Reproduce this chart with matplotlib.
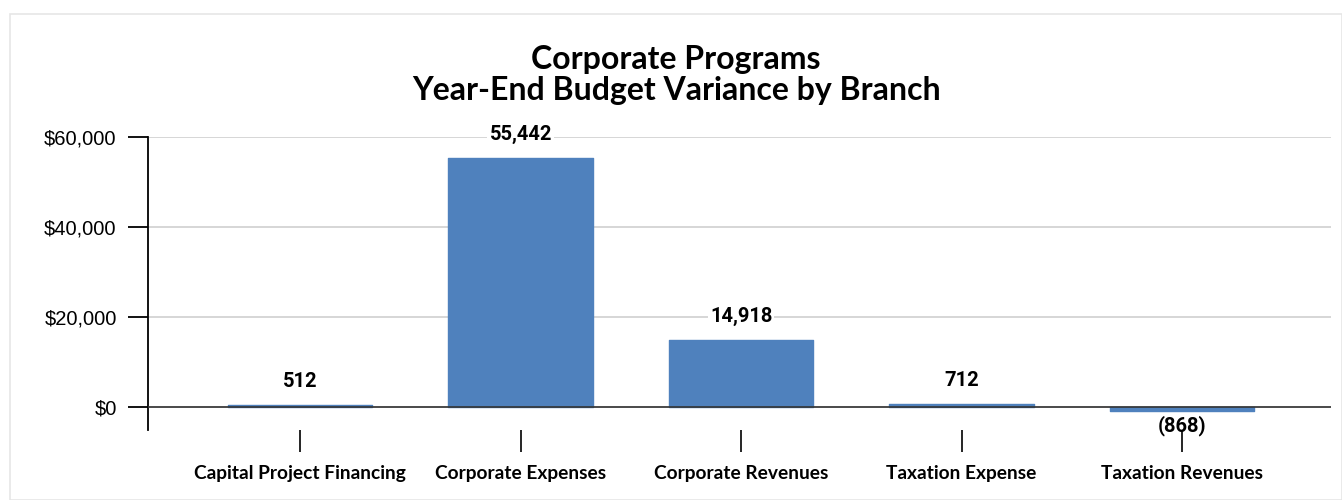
import matplotlib.pyplot as plt
from matplotlib.patches import Rectangle
from matplotlib.ticker import FuncFormatter

branches = ['Capital Project Financing', 'Corporate Expenses', 'Corporate Revenues',
            'Taxation Expense', 'Taxation Revenues']
variance = [512, 55442, 14918, 712, -868]

bar_color = '#4F81BD'

fig = plt.figure(figsize=(13.42, 5), dpi=100)
# light card border around the chart
fig.patches.append(Rectangle((10 / 1342, 0), 1 - 10 / 1342, 1 - 14 / 500, transform=fig.transFigure,
                             fill=False, edgecolor='#e6e6e6', linewidth=1.2))

ax = fig.add_axes([148 / 1342, 1 - 430 / 500, (1331 - 148) / 1342, (430 - 137) / 500])

x = range(len(branches))
ax.bar(x, variance, width=0.655, color=bar_color, edgecolor=bar_color,
       linewidth=1, joinstyle='round', zorder=3)

ax.set_xlim(-0.69, 4.675)
ax.set_ylim(-5100, 60000)
ax.set_yticks([0, 20000, 40000, 60000])
ax.yaxis.set_major_formatter(FuncFormatter(lambda v, p: '${:,.0f}'.format(v)))
ax.grid(axis='y', color='#d0d0d0', linewidth=1.2, zorder=0)
ax.axhline(0, color='#333333', linewidth=1.2, zorder=4)

for s in ['top', 'right', 'bottom']:
    ax.spines[s].set_visible(False)
ax.spines['left'].set_linewidth(1.3)

ax.tick_params(axis='y', length=14.5, width=1.3, pad=8, labelsize=14.5)
for lbl in ax.get_yticklabels():
    lbl.set_fontfamily('Liberation Sans')

ax.set_xticks(list(x))
ax.set_xticklabels(branches, fontfamily='Lato', fontweight='bold', fontsize=13.8)
ax.tick_params(axis='x', direction='out', length=16, width=1.2, pad=9)

# value labels, negatives shown in parentheses below the bar
for xi, v in zip(x, variance):
    if v >= 0:
        txt = '{:,}'.format(v)
        ax.annotate(txt, (xi, v), xytext=(0, 10), textcoords='offset points',
                    ha='center', va='bottom', fontsize=14.5, fontweight='bold',
                    fontfamily='Roboto', zorder=5,
                    bbox=dict(boxstyle='square,pad=0.1', fc='white', ec='none'))
    else:
        txt = '({:,})'.format(-v)
        ax.annotate(txt, (xi, v), xytext=(0, -3), textcoords='offset points',
                    ha='center', va='top', fontsize=14.5, fontweight='bold',
                    fontfamily='Roboto', zorder=5)

fig.text(676 / 1342, 1 - 75 / 500, 'Corporate Programs\nYear-End Budget Variance by Branch',
         ha='center', va='center', fontsize=23, fontweight='bold', fontfamily='Lato',
         linespacing=1.05)

fig.savefig('out.png', dpi=100)
